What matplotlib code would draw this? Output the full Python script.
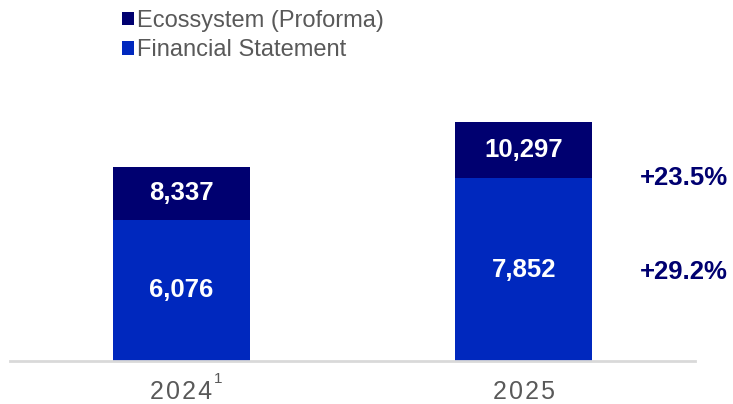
import matplotlib.pyplot as plt

years = ["2024", "2025"]
financial = [6076, 7852]
ecosystem_total = [8337, 10297]
legend_labels = ["Ecossystem (Proforma)", "Financial Statement"]

dark = "#000070"
blue = "#0028BE"
grey = "#595959"

plt.rcParams["font.family"] = ["Liberation Sans", "DejaVu Sans"]

fig = plt.figure(figsize=(7.33, 4.04), dpi=100)
ax = fig.add_axes([10 / 733, 43 / 404, 685 / 733, 279 / 404])

x = range(len(years))
top_part = [t - f for t, f in zip(ecosystem_total, financial)]
ax.bar(x, financial, width=0.4, color=blue, label=legend_labels[1])
ax.bar(x, top_part, bottom=financial, width=0.4, color=dark, label=legend_labels[0])

for i in x:
    ax.text(i, financial[i] / 2, f"{financial[i]:,}", ha="center", va="center",
            color="white", fontsize=18.5, fontweight="bold")
    ax.text(i, (financial[i] + ecosystem_total[i]) / 2, f"{ecosystem_total[i]:,}",
            ha="center", va="center", color="white", fontsize=18.5, fontweight="bold")

# growth figures on the right
eco_growth = ecosystem_total[1] / ecosystem_total[0] - 1
fin_growth = financial[1] / financial[0] - 1
ax.text(1.468, 7880, f"+{eco_growth * 100:.1f}%", ha="center", va="center",
        color=dark, fontsize=18.5, fontweight="bold", clip_on=False)
ax.text(1.468, 3830, f"+{fin_growth * 100:.1f}%", ha="center", va="center",
        color=dark, fontsize=18.5, fontweight="bold", clip_on=False)

ax.set_xlim(-0.5, 1.5)
ax.set_ylim(0, 12000)
ax.set_xticks(list(x))
ax.set_xticklabels(["\u200a".join(y) for y in years], fontsize=18, color=grey)
ax.tick_params(axis="x", length=0, pad=14)
ax.set_yticks([])
for side in ["top", "right", "left"]:
    ax.spines[side].set_visible(False)
ax.spines["bottom"].set_color("#D9D9D9")
ax.spines["bottom"].set_linewidth(2)

fig.text(218 / 733, 1 - 379 / 404, "1", fontsize=11, color=grey, ha="center", va="center")

handles, labels = ax.get_legend_handles_labels()
fig.legend(handles[::-1], labels[::-1], loc="upper left", bbox_to_anchor=(110 / 733, 1.005),
           frameon=False, fontsize=17, labelcolor=grey, handlelength=0.5,
           handleheight=0.5, handletextpad=0.15, labelspacing=0.32, borderaxespad=0.1)

fig.savefig("out.png", dpi=100)
